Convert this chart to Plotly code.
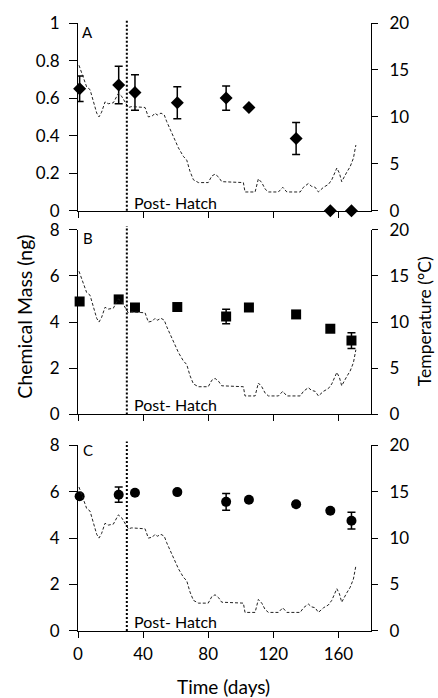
import plotly.graph_objects as go

# ---- data ----
sample_days = [1, 25, 35, 61, 91, 105, 134, 155, 168]
mass_A = [0.65, 0.67, 0.63, 0.575, 0.60, 0.55, 0.385, 0, 0]
err_A = [0.068, 0.10, 0.095, 0.085, 0.065, 0.0, 0.085, 0, 0]
mass_B = [4.89, 4.98, 4.63, 4.65, 4.24, 4.63, 4.33, 3.71, 3.2]
err_B = [0.08, 0.08, 0.08, 0.05, 0.31, 0.05, 0.08, 0.05, 0.34]
mass_C = [5.8, 5.87, 5.95, 5.98, 5.56, 5.65, 5.46, 5.18, 4.75]
err_C = [0.08, 0.33, 0.05, 0.08, 0.36, 0.05, 0.1, 0.05, 0.36]

temp_day = [0.6, 2.7, 5.3, 7.4, 9.4, 11.5, 12.9, 14.5, 16.6, 18.6,
            21.7, 24.8, 26.8, 28.9, 30.9, 33, 41.2, 43.2, 45.7, 47.3,
            48.7, 51, 53, 54.5, 57.6, 59.6, 61.7, 64.7, 66.8, 68.8,
            70.9, 74, 80, 82.2, 84.2, 86.3, 88.3, 101.6, 102.6, 108.8,
            110.8, 112.9, 115, 117, 123.1, 125.8, 128.3, 136.5, 138.5, 141.5,
            143.5, 145.7, 147.7, 150.8, 153.8, 155.9, 159, 160.6, 162, 165.1,
            167.2, 169.2, 170.7]
temp_c = [15.5, 14.4, 13.2, 12.9, 11.8, 10.4, 10.0, 10.5, 11.6, 11.4,
          11.5, 12.5, 12.2, 11.6, 11.0, 11.1, 11.0, 10.0, 10.1, 10.4,
          10.2, 10.4, 10.2, 9.5, 8.3, 7.7, 6.7, 5.8, 5.4, 4.2,
          3.3, 3.0, 3.0, 3.7, 3.9, 3.6, 3.1, 3.0, 2.0, 2.0,
          3.4, 3.0, 2.3, 2.0, 2.0, 2.5, 2.0, 2.0, 2.5, 2.9,
          2.6, 2.5, 2.0, 2.5, 2.8, 3.3, 4.55, 4.0, 3.1, 4.1,
          4.7, 5.6, 7.0]

hatch_day = 30
panel_labels = ["A", "B", "C"]
x_ticks = [0, 40, 80, 120, 160]

FONT = "Lato"
BLACK = "#000000"

fig = go.Figure()

panels = [
    # (mass, err, symbol, xaxis, left y, right y, range, dtick)
    (mass_A, err_A, "diamond", "x", "y", "y2", [0, 1], 0.2),
    (mass_B, err_B, "square", "x2", "y3", "y4", [0, 8], 2),
    (mass_C, err_C, "circle", "x3", "y5", "y6", [0, 8], 2),
]

for mass, err, sym, xa, yl, yr, rng, dt in panels:
    fig.add_trace(go.Scatter(
        x=sample_days, y=mass, mode="markers", xaxis=xa, yaxis=yl,
        marker=dict(symbol=sym, size=10, color=BLACK),
        error_y=dict(type="data", array=err, visible=True, color=BLACK,
                     thickness=1.5, width=4),
        cliponaxis=False, showlegend=False))
    fig.add_trace(go.Scatter(
        x=temp_day, y=temp_c, mode="lines", xaxis=xa, yaxis=yr,
        line=dict(color="#222222", width=1, dash="3px,2px"),
        showlegend=False))

# domains (paper coords)
domains = [[0.6912, 1.0], [0.3562, 0.6601], [0.0, 0.3056]]

axis_common = dict(showline=True, linecolor=BLACK, linewidth=1,
                   ticks="outside", ticklen=6, tickcolor=BLACK, tickwidth=1,
                   showgrid=False, zeroline=False,
                   tickfont=dict(family=FONT, size=17, color=BLACK))

layout = dict(
    width=438, height=698,
    margin=dict(l=78, r=67, t=19, b=67),
    paper_bgcolor="white", plot_bgcolor="white",
    font=dict(family=FONT, color=BLACK),
)

xnames = ["xaxis", "xaxis2", "xaxis3"]
ynames_l = ["yaxis", "yaxis3", "yaxis5"]
ynames_r = ["yaxis2", "yaxis4", "yaxis6"]
yids_l = ["y", "y3", "y5"]
xids = ["x", "x2", "x3"]

for i, (mass, err, sym, xa, yl, yr, rng, dt) in enumerate(panels):
    layout[xnames[i]] = dict(axis_common, domain=[0, 1], anchor=yids_l[i],
                             range=[0, 180], tickvals=x_ticks,
                             showticklabels=(i == 2), ticklabelstandoff=2,
                             matches=None if i == 0 else "x")
    layout[ynames_l[i]] = dict(axis_common, domain=domains[i], anchor=xids[i],
                               range=rng, dtick=dt, tick0=0, ticklen=8,
                               ticklabelstandoff=6)
    layout[ynames_r[i]] = dict(axis_common, overlaying=yids_l[i], anchor=xids[i],
                               side="right", range=[0, 20], dtick=5, tick0=0,
                               ticklabelstandoff=8)

fig.update_layout(**layout)

label_y = [0.952, 0.957, 0.973]
hatch_y = [0.046, 0.052, 0.053]
for i in range(3):
    xr = xids[i]
    yr = yids_l[i]
    fig.add_shape(type="line", xref=xr, yref=f"{yr} domain",
                  x0=hatch_day, x1=hatch_day, y0=0, y1=1.02,
                  line=dict(color=BLACK, width=2, dash="2px,2px"))
    fig.add_annotation(xref=f"{xr} domain", yref=f"{yr} domain",
                       x=0.034, y=label_y[i], text=panel_labels[i],
                       showarrow=False, xanchor="center", yanchor="middle",
                       font=dict(family=FONT, size=15, color=BLACK))
    fig.add_annotation(xref=xr, yref=f"{yr} domain",
                       x=hatch_day + 3.3, y=hatch_y[i], text="Post- Hatch",
                       showarrow=False, xanchor="left", yanchor="middle",
                       font=dict(family=FONT, size=16, color=BLACK))

fig.add_annotation(xref="paper", yref="paper", x=-0.181, y=0.517,
                   text="Chemical Mass (ng)", textangle=-90, showarrow=False,
                   xanchor="center", yanchor="middle",
                   font=dict(family=FONT, size=19.5, color=BLACK))
fig.add_annotation(xref="paper", yref="paper", x=1.185, y=0.51,
                   text="Temperature (°C)", textangle=-90, showarrow=False,
                   xanchor="center", yanchor="middle",
                   font=dict(family=FONT, size=17.5, color=BLACK))
fig.add_annotation(xref="paper", yref="paper", x=0.498, y=-0.0915,
                   text="Time (days)", showarrow=False,
                   xanchor="center", yanchor="middle",
                   font=dict(family=FONT, size=19, color=BLACK))

fig.write_html("out.html")
